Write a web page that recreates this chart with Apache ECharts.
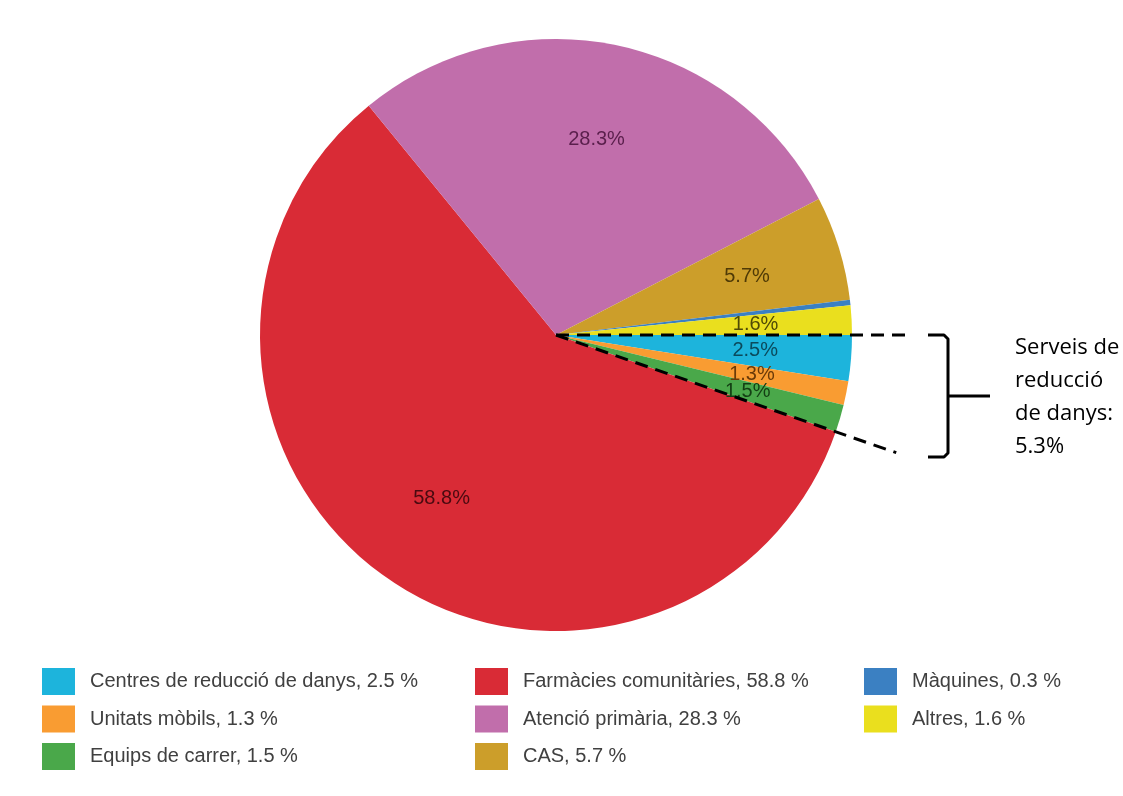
<!DOCTYPE html>
<html>
<head>
<meta charset="utf-8">
<script src="https://cdn.jsdelivr.net/npm/echarts@6/dist/echarts.min.js"></script>
<style>
html,body{margin:0;padding:0;background:#fff;}
#chart{width:1123px;height:796px;}
</style>
</head>
<body>
<div id="chart"></div>
<script>
const categories = ['Centres de reducció de danys','Unitats mòbils','Equips de carrer','Farmàcies comunitàries','Atenció primària','CAS','Màquines','Altres'];
const values = [2.5, 1.3, 1.5, 58.8, 28.3, 5.7, 0.3, 1.6];
const colors = ['#1db4dc','#f99c32','#4aa84a','#d92b36','#c16eab','#cc9e2a','#3b80c2','#eadf1e'];
const labelColors = ['#0b4a5c','#6a3a08','#143f14','#4a0a10','#5a1f4c','#4f3a06','#1a3a5a','#4f4a06'];
const legendCols = [
  ['Centres de reducció de danys','Unitats mòbils','Equips de carrer'],
  ['Farmàcies comunitàries','Atenció primària','CAS'],
  ['Màquines','Altres']
];
const annotationLines = ['Serveis de','reducció','de danys:','5.3%'];

const CX = 556, CY = 335, R = 296;
const chart = echarts.init(document.getElementById('chart'));

const pieData = categories.map((c,i)=>({name:c,value:values[i],itemStyle:{color:colors[i]}}));
const labelData = categories.map((c,i)=>({
  name:c, value:values[i],
  label:{show: values[i] >= 1, color: labelColors[i]}
}));

const total = values.reduce((a,b)=>a+b,0);
const groupShare = values[0]+values[1]+values[2];
const ang = groupShare/total*2*Math.PI;
const lowLen = 360;

const valueByName = {};
categories.forEach((c,i)=>valueByName[c]=values[i]);

const legendLefts = [42, 475, 864];
const legends = legendCols.map((col,k)=>({
  orient:'vertical', left: legendLefts[k], top: 668, padding:0,
  icon:'rect', itemWidth:33, itemHeight:27, itemGap:10.5,
  data: col,
  selectedMode:false,
  formatter: n => n + ', ' + valueByName[n] + ' %',
  textStyle:{fontFamily:'Liberation Sans, Arial, sans-serif', fontSize:20, color:'#404040', padding:[0,0,0,10]}
}));

const dash = {stroke:'#000', lineWidth:3, lineDash:[13,8]};
const graphics = [
  {type:'line', shape:{x1:CX,y1:CY,x2:912,y2:CY}, style:dash, z:100},
  {type:'line', shape:{x1:CX,y1:CY,x2:CX+lowLen*Math.cos(ang),y2:CY+lowLen*Math.sin(ang)}, style:dash, z:100},
  {type:'polyline', shape:{points:[[928,CY],[944,CY],[948,CY+4],[948,453],[944,457],[928,457]]}, style:{stroke:'#000',lineWidth:3,fill:null,lineJoin:'round'}, z:100},
  {type:'line', shape:{x1:948,y1:396,x2:990,y2:396}, style:{stroke:'#000',lineWidth:3}, z:100}
];
annotationLines.forEach((t,i)=>{
  graphics.push({type:'text', left:1015, top:337+i*33, style:{text:t, font:'22px "Open Sans", sans-serif', fill:'#000'}, z:100});
});

chart.setOption({
  backgroundColor:'#fff',
  animation:false,
  legend: legends,
  series:[
    {
      type:'pie', center:[CX,CY], radius:[0,R], startAngle:0, clockwise:true,
      data: pieData, label:{show:false}, labelLine:{show:false},
      silent:true, itemStyle:{borderWidth:0}
    },
    {
      type:'pie', center:[CX,CY], radius:[R*0.33,R], startAngle:0, clockwise:true,
      data: labelData, silent:true, avoidLabelOverlap:false,
      labelLayout:{hideOverlap:false},
      itemStyle:{color:'rgba(0,0,0,0)', borderWidth:0},
      label:{position:'inside', formatter: p => p.value + '%', fontFamily:'Liberation Sans, Arial, sans-serif', fontSize:20},
      labelLine:{show:false}, legendHoverLink:false
    }
  ],
  graphic: graphics
});
</script>
</body>
</html>
